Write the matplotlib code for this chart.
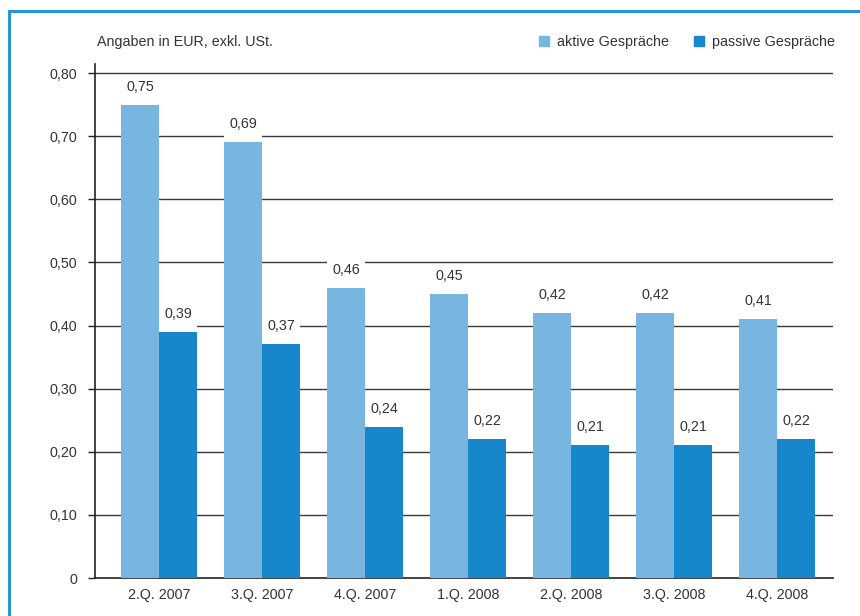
import matplotlib
matplotlib.use('Agg')
import matplotlib.pyplot as plt
import numpy as np
from matplotlib.patches import Rectangle
from matplotlib.lines import Line2D

plt.rcParams['font.family'] = ['Liberation Sans', 'DejaVu Sans']

quartale = ['2.Q. 2007', '3.Q. 2007', '4.Q. 2007', '1.Q. 2008',
            '2.Q. 2008', '3.Q. 2008', '4.Q. 2008']
aktiv = [0.75, 0.69, 0.46, 0.45, 0.42, 0.42, 0.41]
passiv = [0.39, 0.37, 0.24, 0.22, 0.21, 0.21, 0.22]
yticks = [0, 0.1, 0.2, 0.3, 0.4, 0.5, 0.6, 0.7, 0.8]
ylabels = ['0', '0,10', '0,20', '0,30', '0,40', '0,50', '0,60', '0,70', '0,80']

hell = '#78b5e1'
dunkel = '#1687ca'
txt = '#333333'
fs = 10.3

fig = plt.figure(figsize=(8.6, 6.16), dpi=100)
ax = fig.add_axes([95/860, 38/616, (833-95)/860, (578-64)/616])

x = np.arange(len(quartale))
w = 0.369

# grid
for t in yticks[1:]:
    ax.axhline(t, color='#3a3a3a', lw=1.0, zorder=1)

ax.bar(x - w/2, aktiv, w, color=hell, zorder=3, align='center')
ax.bar(x + w/2, passiv, w, color=dunkel, zorder=3, align='center')
# white label backgrounds covering the grid
ax.bar(x - w/2, 0.042, w, bottom=aktiv, color='white', zorder=2)
ax.bar(x + w/2, 0.042, w, bottom=passiv, color='white', zorder=2)

for xi, a, p in zip(x, aktiv, passiv):
    ax.annotate(f'{a:.2f}'.replace('.', ','), (xi - w/2, a), xytext=(0, 11),
                textcoords='offset pixels', ha='center', va='bottom',
                fontsize=fs, color=txt, zorder=4)
    ax.annotate(f'{p:.2f}'.replace('.', ','), (xi + w/2, p), xytext=(0, 11),
                textcoords='offset pixels', ha='center', va='bottom',
                fontsize=fs, color=txt, zorder=4)

ax.set_xlim(-0.621, 6.544)
ax.set_ylim(0, 0.8143)
ax.set_yticks(yticks)
ax.set_yticklabels(ylabels)
ax.set_xticks(x)
ax.set_xticklabels(quartale)
ax.tick_params(axis='y', length=5, width=1, color='#222222', pad=8,
               labelsize=fs, labelcolor=txt)
ax.tick_params(axis='x', length=0, pad=7, labelsize=fs, labelcolor=txt)
for s in ['top', 'right']:
    ax.spines[s].set_visible(False)
for s in ['left', 'bottom']:
    ax.spines[s].set_color('#222222')
    ax.spines[s].set_linewidth(1.2)

fig.text(97/860, 1 - 42/616, 'Angaben in EUR, exkl. USt.', fontsize=fs,
         color=txt, ha='left', va='center')

handles = [Line2D([], [], marker='s', ls='', markersize=7.5, color=hell),
           Line2D([], [], marker='s', ls='', markersize=7.5, color=dunkel)]
fig.legend(handles, ['aktive Gespräche', 'passive Gespräche'], ncol=2,
           loc='center right', bbox_to_anchor=(848/860, 1 - 42/616),
           frameon=False, fontsize=fs, labelcolor=txt, handletextpad=0.5,
           columnspacing=1.6, handlelength=0.9)

# blue frame
fig.patches.append(Rectangle((9/860, -0.05), 1.0, 1 - 11/616 + 0.05,
                             transform=fig.transFigure, fill=False,
                             edgecolor='#2a95d6', lw=2.2, clip_on=False))

fig.savefig('out.png', dpi=100)
